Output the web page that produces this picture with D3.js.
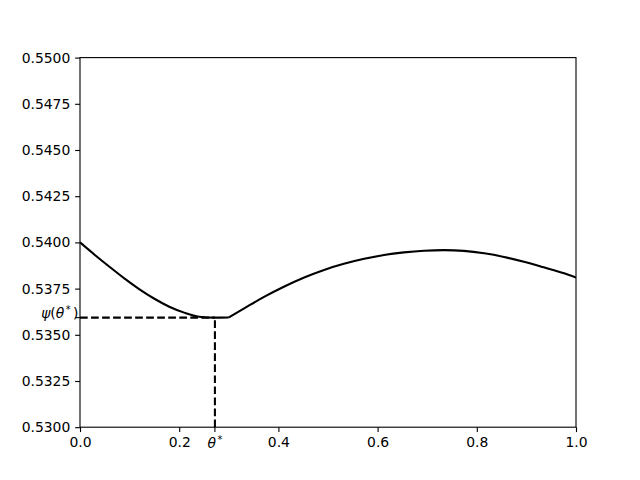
<!DOCTYPE html>
<html>
<head>
<meta charset="utf-8">
<script src="https://cdn.jsdelivr.net/npm/d3@7"></script>
<style>
  body { margin: 0; background: #fff; }
  svg { display: block; }
  text { font-family: "DejaVu Sans", sans-serif; }
</style>
</head>
<body>
<svg id="chart" width="640" height="480"></svg>
<script>
// ---- data ----
const thetaStar = 0.272;
const psiStar = 0.53593;
// left branch (decreasing to the minimum, then flat up to the kink)
const leftTheta = [0.000, 0.030, 0.060, 0.090, 0.120, 0.150, 0.180, 0.210, 0.240, 0.272, 0.300];
const leftPsi   = [0.54000, 0.53932, 0.53867, 0.53804, 0.53746, 0.53695, 0.53652, 0.53620, 0.53598, 0.53593, 0.53594];
// right branch (from the kink to the end)
const rightTheta = [0.300, 0.331, 0.371, 0.411, 0.452, 0.492, 0.532, 0.573, 0.613, 0.653, 0.694, 0.734, 0.774, 0.815, 0.855, 0.895, 0.935, 0.976, 1.000];
const rightPsi   = [0.53594, 0.53643, 0.53705, 0.53760, 0.53810, 0.53851, 0.53884, 0.53911, 0.53932, 0.53946, 0.53955, 0.53958, 0.53954, 0.53941, 0.53921, 0.53895, 0.53865, 0.53833, 0.53810];
const xTicks = [0.0, 0.2, 0.4, 0.6, 0.8, 1.0];
const yTicks = [0.5300, 0.5325, 0.5350, 0.5375, 0.5400, 0.5425, 0.5450, 0.5475, 0.5500];

// ---- layout ----
const svg = d3.select("#chart");
const L = 80, R = 576, T = 57.6, B = 427.2;
const x = d3.scaleLinear().domain([0, 1]).range([L, R]);
const y = d3.scaleLinear().domain([0.53, 0.55]).range([B, T]);
const tickLen = 4.86, pad = 4.86;
const lw = 2.08, dash = "7.7,3.33";

// curve
const line = d3.line().x(d => x(d[0])).y(d => y(d[1])).curve(d3.curveMonotoneX);
const leftData = leftTheta.map((t, i) => [t, leftPsi[i]]);
const rightData = rightTheta.map((t, i) => [t, rightPsi[i]]);

svg.append("defs").append("clipPath").attr("id", "clip")
  .append("rect").attr("x", L).attr("y", T).attr("width", R - L).attr("height", B - T);

const plot = svg.append("g").attr("clip-path", "url(#clip)");
[leftData, rightData].forEach(dat => {
  plot.append("path").datum(dat).attr("d", line)
    .attr("fill", "none").attr("stroke", "#000").attr("stroke-width", lw)
    .attr("stroke-linejoin", "round").attr("stroke-linecap", "butt");
});

// dashed guide lines
svg.append("line")
  .attr("x1", x(0)).attr("x2", x(thetaStar)).attr("y1", y(psiStar)).attr("y2", y(psiStar))
  .attr("stroke", "#000").attr("stroke-width", lw).attr("stroke-dasharray", dash);
svg.append("line")
  .attr("x1", x(thetaStar)).attr("x2", x(thetaStar)).attr("y1", y(0.53)).attr("y2", y(psiStar))
  .attr("stroke", "#000").attr("stroke-width", lw).attr("stroke-dasharray", dash);

// axes
const xAxis = d3.axisBottom(x).tickValues(xTicks).tickFormat(d3.format(".1f"))
  .tickSize(tickLen).tickPadding(pad).tickSizeOuter(0);
const gx = svg.append("g").attr("transform", `translate(0,${B})`).call(xAxis);
const yAxis = d3.axisLeft(y).tickValues(yTicks).tickFormat(d3.format(".4f"))
  .tickSize(tickLen).tickPadding(pad).tickSizeOuter(0);
const gy = svg.append("g").attr("transform", `translate(${L},0)`).call(yAxis);
[gx, gy].forEach(g => {
  g.select(".domain").remove();
  g.selectAll(".tick line").attr("stroke", "#000").attr("stroke-width", 1.11);
  g.selectAll(".tick text").attr("fill", "#000").attr("font-size", "13.9px")
    .attr("font-family", "DejaVu Sans, sans-serif");
});

// theta* tick on x axis
svg.append("line").attr("x1", x(thetaStar)).attr("x2", x(thetaStar))
  .attr("y1", B).attr("y2", B + tickLen).attr("stroke", "#000").attr("stroke-width", 1.11);
const tl = svg.append("text").attr("x", x(thetaStar)).attr("y", 448.3)
  .attr("text-anchor", "middle").attr("font-size", "13.9px").attr("fill", "#000");
tl.append("tspan").attr("font-style", "italic").text("θ");
tl.append("tspan").attr("font-size", "9.7px").attr("dx", "1.5").attr("dy", "-5").text("*");

// psi(theta*) tick + label on y axis
svg.append("line").attr("x1", L - tickLen).attr("x2", L)
  .attr("y1", y(psiStar)).attr("y2", y(psiStar)).attr("stroke", "#000").attr("stroke-width", 1.11);
const pl = svg.append("text").attr("x", 78.5).attr("y", 317.8)
  .attr("text-anchor", "end").attr("font-size", "13.9px").attr("fill", "#000");
pl.append("tspan").attr("font-style", "italic").text("ψ");
pl.append("tspan").text("(");
pl.append("tspan").attr("font-style", "italic").text("θ");
pl.append("tspan").attr("font-size", "9.7px").attr("dx", "1.5").attr("dy", "-5").text("*");
pl.append("tspan").attr("dx", "2.5").attr("dy", "5").text(")");

// frame
svg.append("rect").attr("x", L).attr("y", T).attr("width", R - L).attr("height", B - T)
  .attr("fill", "none").attr("stroke", "#000").attr("stroke-width", 1.11);
</script>
</body>
</html>
